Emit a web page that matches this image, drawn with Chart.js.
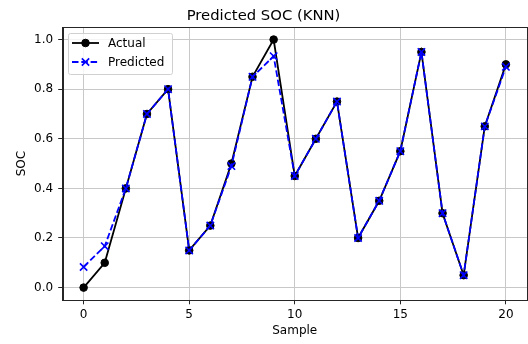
<!DOCTYPE html>
<html>
<head>
<meta charset="utf-8">
<script src="https://cdn.jsdelivr.net/npm/chart.js@4"></script>
<style>
  body { margin: 0; background: #fff; }
</style>
</head>
<body>
<canvas id="soc" width="528" height="344"></canvas>
<script>
var samples = [0, 1, 2, 3, 4, 5, 6, 7, 8, 9, 10, 11, 12, 13, 14, 15, 16, 17, 18, 19, 20];
var actual = [0, 0.1, 0.4, 0.7, 0.8, 0.15, 0.25, 0.5, 0.85, 1.0, 0.45, 0.6, 0.75, 0.2, 0.35, 0.55, 0.95, 0.3, 0.05, 0.65, 0.9];
var predicted = [0.083, 0.167, 0.4, 0.7, 0.8, 0.15, 0.25, 0.49, 0.85, 0.933, 0.45, 0.6, 0.75, 0.2, 0.35, 0.55, 0.95, 0.3, 0.05, 0.65, 0.89];
var xTicks = [0, 5, 10, 15, 20];
var yTicks = [0, 0.2, 0.4, 0.6, 0.8, 1.0];

var FONT = 'DejaVu Sans';

function points(ys) {
    return samples.map(function(x, i) { return {x: x, y: ys[i]}; });
}

// full box around the plot + legend inside top-left
var frameAndLegend = {
    id: 'frameAndLegend',
    afterDraw: function(chart) {
        var c = chart.ctx, a = chart.chartArea;
        c.save();
        c.strokeStyle = '#262626';
        c.lineWidth = 1;
        c.strokeRect(Math.round(a.left) + 0.5, Math.round(a.top) + 0.5,
                     Math.round(a.right - a.left) - 1, Math.round(a.bottom - a.top));

        // legend box
        var bx = 68.5, by = 33.5, bw = 104, bh = 41;
        c.fillStyle = 'rgba(255,255,255,0.8)';
        c.strokeStyle = '#d0d0d0';
        c.beginPath();
        c.roundRect(bx, by, bw, bh, 2);
        c.fill();
        c.stroke();

        c.font = '12px ' + FONT;
        c.textBaseline = 'middle';
        var rows = [43, 62];
        chart.data.datasets.slice().reverse().forEach(function(ds, i) {
            var y = rows[i];
            c.strokeStyle = ds.borderColor;
            c.lineWidth = ds.borderWidth;
            c.setLineDash(ds.borderDash || []);
            c.beginPath();
            c.moveTo(72, y);
            c.lineTo(99, y);
            c.stroke();
            c.setLineDash([]);
            c.fillStyle = ds.pointBackgroundColor || ds.borderColor;
            c.strokeStyle = ds.pointBorderColor;
            c.lineWidth = ds.pointBorderWidth;
            Chart.helpers.drawPoint(c, {
                pointStyle: ds.pointStyle,
                radius: ds.pointRadius,
                borderWidth: ds.pointBorderWidth
            }, 85.5, y);
            c.fillStyle = '#000';
            c.fillText(ds.label, 108, y + 0.5);
        });
        c.restore();
    }
};

new Chart(document.getElementById('soc').getContext('2d'), {
    type: 'line',
    data: {
        datasets: [
            {
                label: 'Predicted',
                data: points(predicted),
                borderColor: '#0000ff',
                backgroundColor: '#0000ff',
                borderWidth: 1.8,
                borderDash: [6.5, 2.8],
                pointStyle: 'crossRot',
                pointRadius: 5.2,
                pointBorderWidth: 1.6,
                pointBorderColor: '#0000ff',
                order: 0
            },
            {
                label: 'Actual',
                data: points(actual),
                borderColor: '#000000',
                backgroundColor: '#000000',
                borderWidth: 1.8,
                pointStyle: 'circle',
                pointRadius: 3.8,
                pointBorderWidth: 1,
                pointBackgroundColor: '#000000',
                pointBorderColor: '#000000',
                order: 1
            }
        ]
    },
    options: {
        responsive: false,
        animation: false,
        layout: { autoPadding: false, padding: { right: 1 } },
        plugins: {
            legend: { display: false },
            tooltip: { enabled: false },
            title: {
                display: true,
                text: 'Predicted SOC (KNN)',
                color: '#000',
                font: { family: FONT, size: 14.8, weight: 'normal', lineHeight: 1.2 },
                padding: { top: 7, bottom: 2.4 }
            }
        },
        scales: {
            x: {
                type: 'linear',
                min: -1,
                max: 21,
                afterFit: function(s) {
                    s.height = 44;
                    s.paddingLeft = 0;
                    s.paddingRight = 0;
                },
                afterBuildTicks: function(s) {
                    s.ticks = xTicks.map(function(v) { return {value: v}; });
                },
                ticks: {
                    color: '#000',
                    padding: 3,
                    maxRotation: 0,
                    font: { family: FONT, size: 12 },
                    callback: function(v) { return String(v); }
                },
                grid: { color: '#c8c8c8', lineWidth: 1, tickLength: 4.3, tickColor: '#262626' },
                border: { color: '#262626', width: 1 },
                title: {
                    display: true,
                    text: 'Sample',
                    color: '#000',
                    font: { family: FONT, size: 12, lineHeight: 1.2 },
                    padding: { top: 0, bottom: 5.8 }
                }
            },
            y: {
                min: -0.05,
                max: 1.05,
                afterFit: function(s) {
                    s.width = 62.5;
                    s.paddingTop = 0;
                    s.paddingBottom = 0;
                },
                afterBuildTicks: function(s) {
                    s.ticks = yTicks.map(function(v) { return {value: v}; });
                },
                ticks: {
                    color: '#000',
                    padding: 5,
                    font: { family: FONT, size: 12 },
                    callback: function(v) { return v.toFixed(1); }
                },
                grid: { color: '#c8c8c8', lineWidth: 1, tickLength: 4.3, tickColor: '#262626' },
                border: { color: '#262626', width: 1 },
                title: {
                    display: true,
                    text: 'SOC',
                    color: '#000',
                    font: { family: FONT, size: 12, lineHeight: 1.2 },
                    padding: { top: 14.8, bottom: 0 }
                }
            }
        }
    },
    plugins: [frameAndLegend]
});
</script>
</body>
</html>
